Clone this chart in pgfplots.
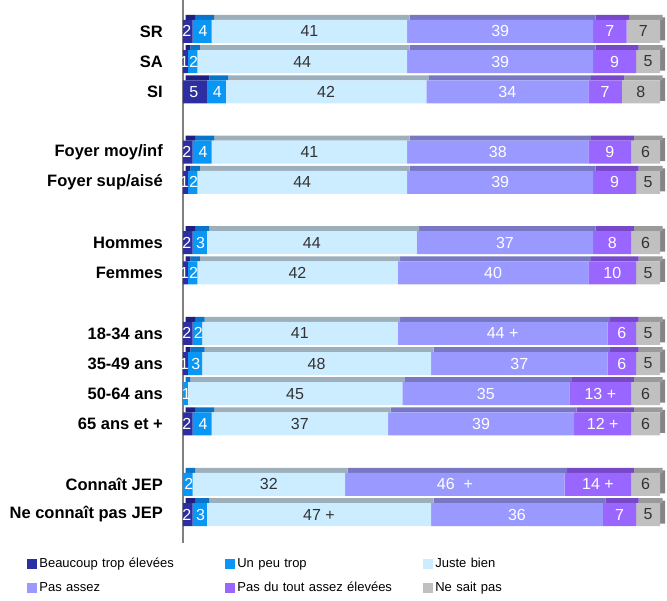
\documentclass[border=0pt]{standalone}
\usepackage{pgfplots}
\pgfplotsset{compat=1.18}
\usepackage{pgfplotstable}
\usepackage{fontspec}
\setmainfont{Liberation Sans}

\definecolor{cA}{HTML}{2E2EA3}
\definecolor{cAt}{HTML}{1F1F7F}
\definecolor{cB}{HTML}{0A96F5}
\definecolor{cBt}{HTML}{0A74C8}
\definecolor{cC}{HTML}{CCECFF}
\definecolor{cCt}{HTML}{9EAFBC}
\definecolor{cD}{HTML}{9999FF}
\definecolor{cDt}{HTML}{7777C4}
\definecolor{cE}{HTML}{9966FF}
\definecolor{cEt}{HTML}{7748C8}
\definecolor{cF}{HTML}{C0C0C0}
\definecolor{cFt}{HTML}{9A9A9A}
\definecolor{cFs}{HTML}{858585}
\definecolor{txt}{HTML}{333333}

% rows: y position, six shares, six printed labels
\pgfplotstableread[col sep=comma]{
y,a,b,c,d,e,f,la,lb,lc,ld,le,lf
0,2,4,41,39,7,7,2,4,41,39,7,7
1,1,2,44,39,9,5,1,2,44,39,9,5
2,5,4,42,34,7,8,5,4,42,34,7,8
4,2,4,41,38,9,6,2,4,41,38,9,6
5,1,2,44,39,9,5,1,2,44,39,9,5
7,2,3,44,37,8,6,2,3,44,37,8,6
8,1,2,42,40,10,5,1,2,42,40,10,5
10,2,2,41,44,6,5,2,2,41,44 +,6,5
11,1,3,48,37,6,5,1,3,48,37,6,5
12,0,1,45,35,13,6,,1,45,35,13 +,6
13,2,4,37,39,12,6,2,4,37,39,12 +,6
15,0,2,32,46,14,6,,2,32,46\ \ +,14 +,6
16,2,3,47,36,7,5,2,3,47 +,36,7,5
}\data

\pgfplotsset{
  base/.style={
    scale only axis, width=477pt, height=531.5pt,
    xmin=0, xmax=100, ymin=-0.8, ymax=16.8,
    y dir=reverse, clip=false,
  },
  lab/.style={
    only marks, mark=*, mark size=0pt, mark options={draw=none, fill=none},
    nodes near coords, point meta=explicit symbolic,
    nodes near coords align=center,
    every node near coord/.append style={text=#1, inner sep=0pt,
      font=\fontsize{16}{16}\selectfont},
  },
}

\begin{document}
\begin{tikzpicture}
\path[use as bounding box] (-183pt,-62.3pt) rectangle (484pt,538.7pt);

% top and side faces of the 3D bars
\begin{axis}[base, hide axis, xbar stacked, bar width=5pt]
\addplot[fill=cAt, draw=none, xshift=2.5pt, yshift=14pt] table[x=a, y=y] {\data};
\addplot[fill=cBt, draw=none, xshift=2.5pt, yshift=14pt] table[x=b, y=y] {\data};
\addplot[fill=cCt, draw=none, xshift=2.5pt, yshift=14pt] table[x=c, y=y] {\data};
\addplot[fill=cDt, draw=none, xshift=2.5pt, yshift=14pt] table[x=d, y=y] {\data};
\addplot[fill=cEt, draw=none, xshift=2.5pt, yshift=14pt] table[x=e, y=y] {\data};
\addplot[fill=cFt, draw=none, xshift=2.5pt, yshift=14pt] table[x=f, y=y] {\data};
\addplot[fill=cFs, draw=none, bar width=23pt, yshift=2.5pt] table[x expr=1.05, y=y] {\data};
\end{axis}

% front faces
\begin{axis}[base, xbar stacked, bar width=23pt,
  axis x line=none, axis y line*=left,
  axis line style={gray, line width=1.2pt, shorten <=-8pt, shorten >=-4pt},
  ytick={0,1,2,4,5,7,8,10,11,12,13,15,16},
  yticklabels={SR,SA,SI,Foyer moy/inf,Foyer sup/aisé,Hommes,Femmes,
    18-34 ans,35-49 ans,50-64 ans,65 ans et +,Connaît JEP,Ne connaît pas JEP},
  major tick length=0pt,
  yticklabel style={font=\bfseries\fontsize{16.5}{18}\selectfont, inner sep=0pt, xshift=-20pt},
  legend columns=3,
  legend cell align=left,
  legend image code/.code={\fill[#1] (0pt,-5pt) rectangle (10pt,5pt);},
  legend style={draw=none, fill=none,
    at={(axis description cs:-0.333,-0.029)}, anchor=north west,
    font=\fontsize{13}{15}\selectfont,
    nodes={text width=184pt, align=left, inner sep=2pt},
    row sep=9pt},
]
\addplot[fill=cA, draw=none] table[x=a, y=y] {\data};
\addplot[fill=cB, draw=none] table[x=b, y=y] {\data};
\addplot[fill=cC, draw=none] table[x=c, y=y] {\data};
\addplot[fill=cD, draw=none] table[x=d, y=y] {\data};
\addplot[fill=cE, draw=none] table[x=e, y=y] {\data};
\addplot[fill=cF, draw=none] table[x=f, y=y] {\data};
\legend{Beaucoup trop élevées,Un peu trop,Juste bien,Pas assez,Pas du tout assez élevées,Ne sait pas}
\end{axis}

% value labels at the middle of each segment
\begin{axis}[base, hide axis]
\addplot[lab=white, xshift=-1pt] table[x expr=\thisrow{a}/2, y=y, meta=la] {\data};
\addplot[lab=white, xshift=1pt] table[x expr=\thisrow{a}+\thisrow{b}/2, y=y, meta=lb] {\data};
\addplot[lab=txt] table[x expr=\thisrow{a}+\thisrow{b}+\thisrow{c}/2, y=y, meta=lc] {\data};
\addplot[lab=white] table[x expr=\thisrow{a}+\thisrow{b}+\thisrow{c}+\thisrow{d}/2, y=y, meta=ld] {\data};
\addplot[lab=white] table[x expr=\thisrow{a}+\thisrow{b}+\thisrow{c}+\thisrow{d}+\thisrow{e}/2, y=y, meta=le] {\data};
\addplot[lab=txt] table[x expr=\thisrow{a}+\thisrow{b}+\thisrow{c}+\thisrow{d}+\thisrow{e}+\thisrow{f}/2, y=y, meta=lf] {\data};
\end{axis}
\end{tikzpicture}
\end{document}
